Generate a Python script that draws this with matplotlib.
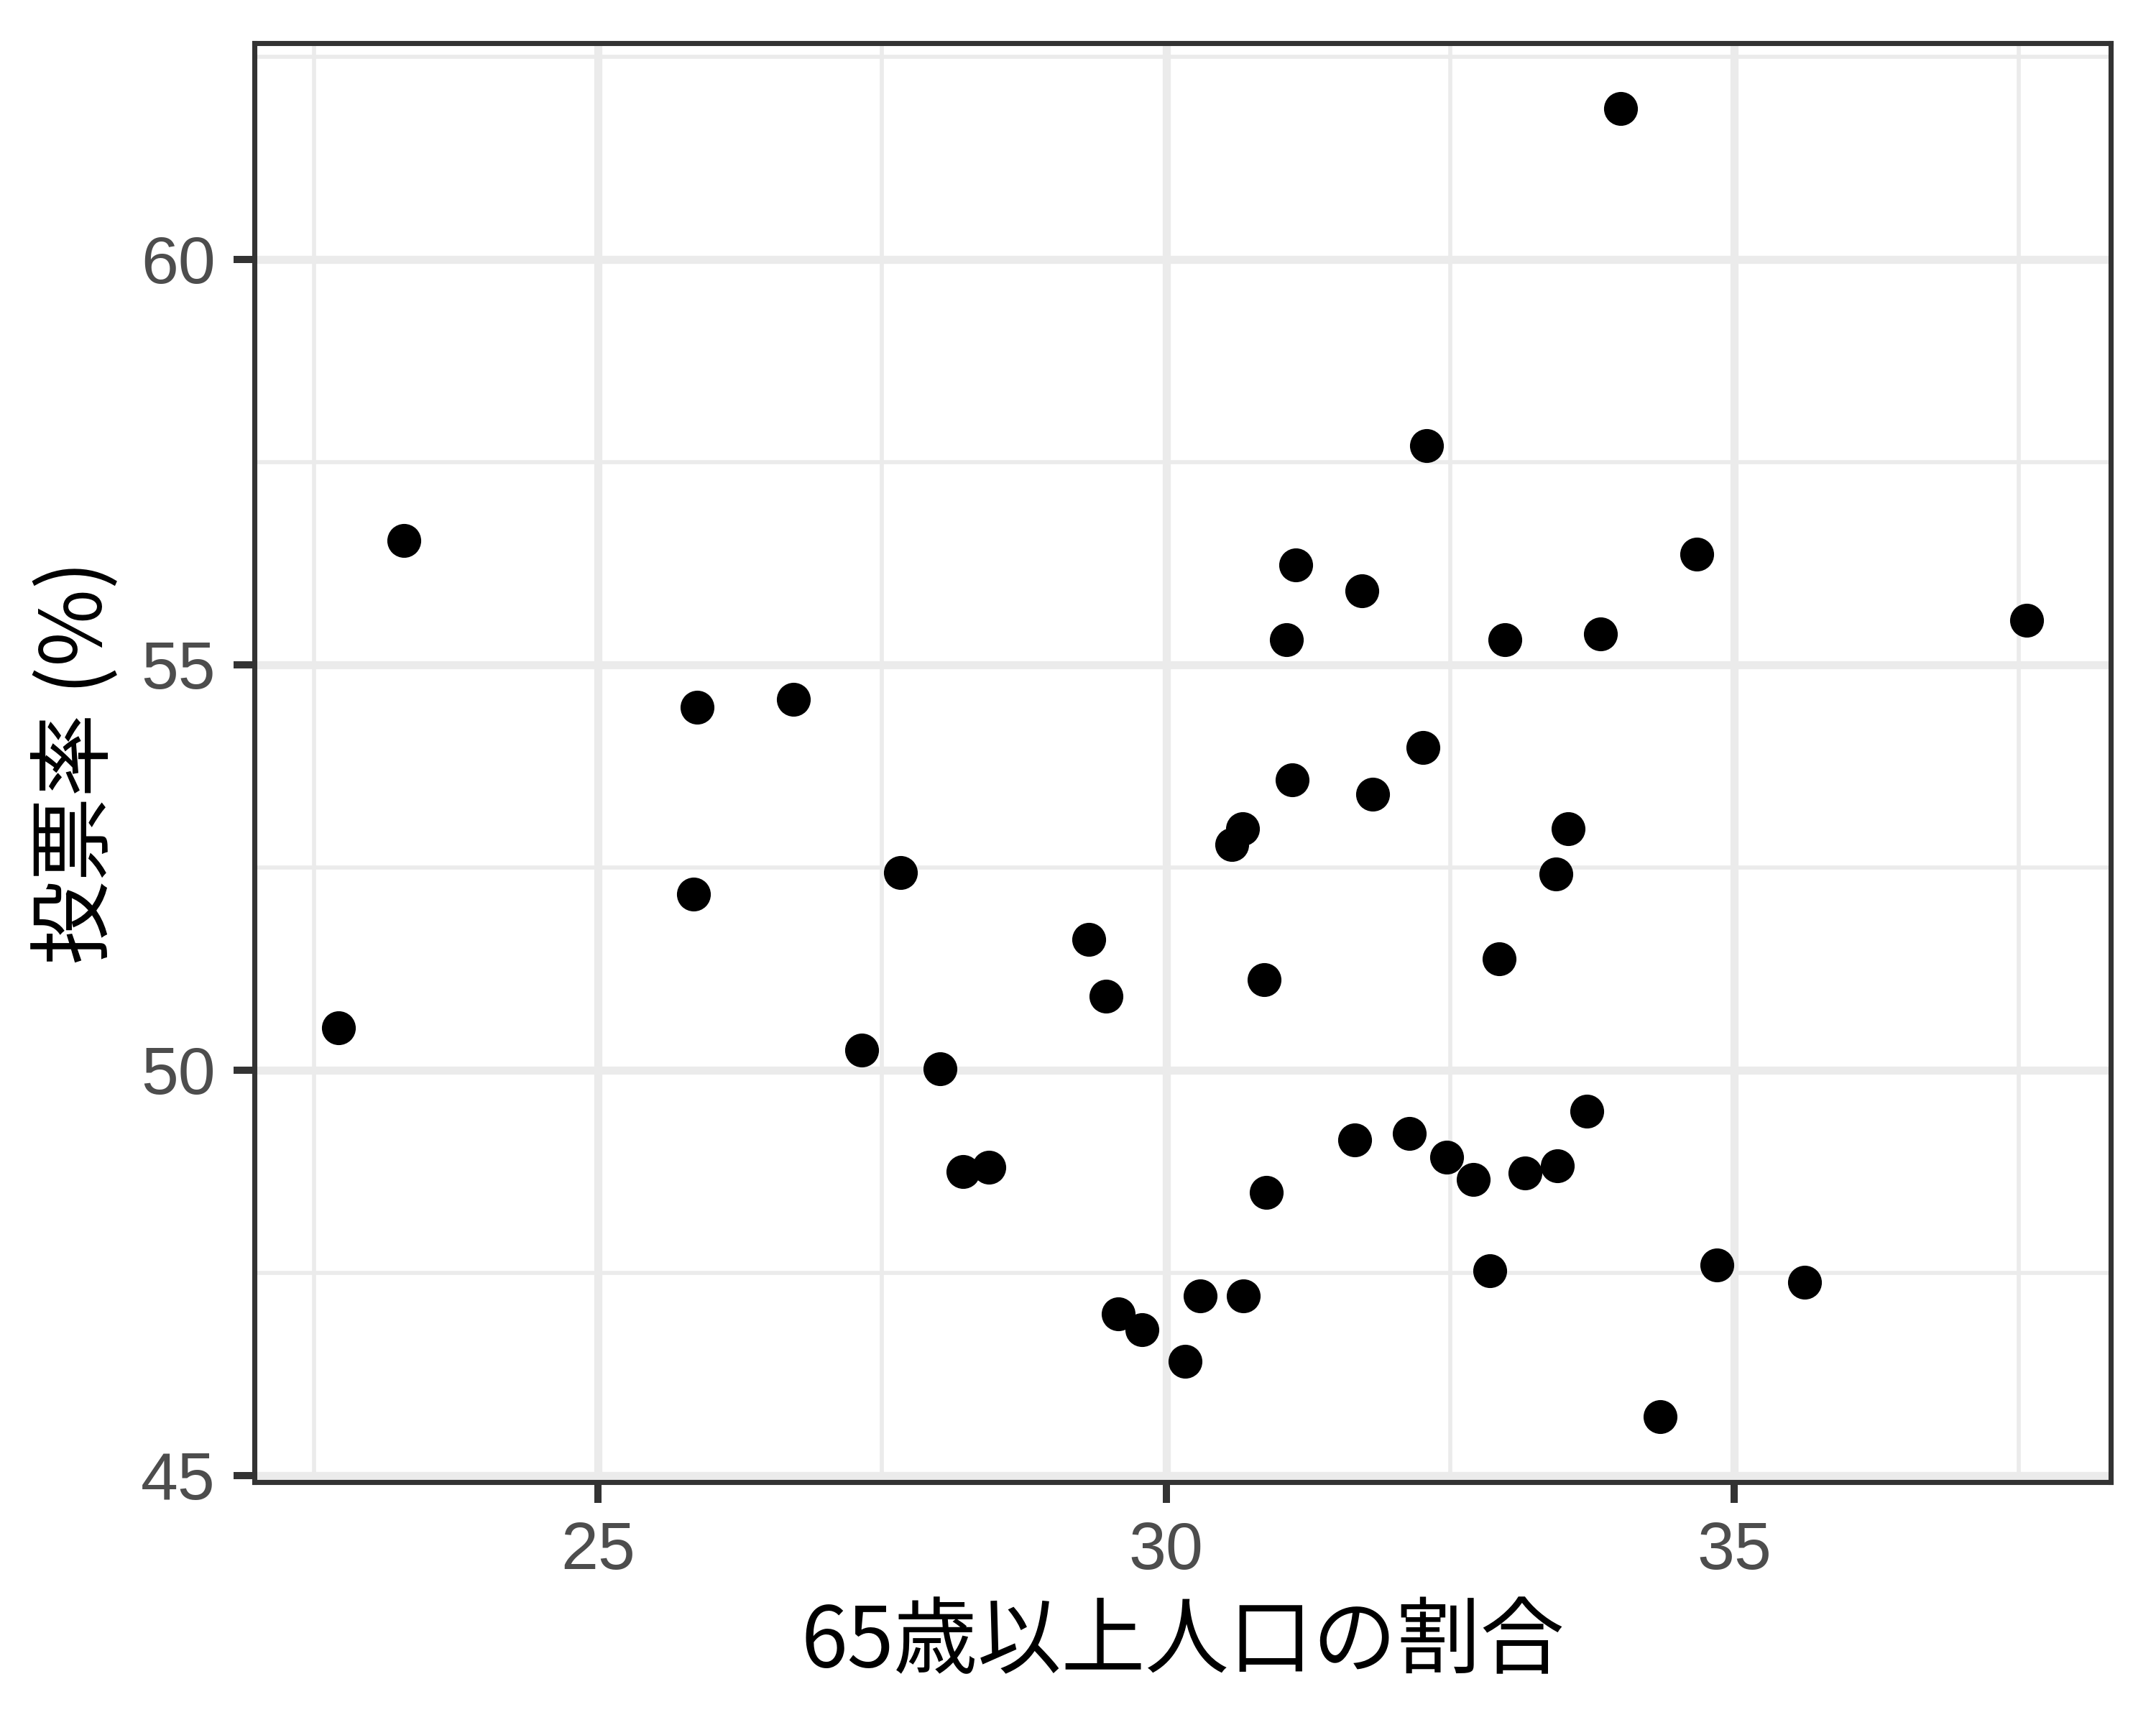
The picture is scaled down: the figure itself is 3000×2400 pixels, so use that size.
import matplotlib
matplotlib.use("Agg")
import matplotlib.pyplot as plt
from matplotlib.ticker import MultipleLocator

# share of population aged 65+ (%) and turnout (%), one point per prefecture
elderly = [22.72, 23.29, 25.87, 25.84, 26.72, 27.32, 27.66, 28.01, 28.21, 28.44,
           29.32, 29.47, 29.58, 29.79, 30.17, 30.30, 30.68, 30.58, 30.67, 30.86,
           30.88, 31.06, 31.14, 31.11, 31.66, 31.72, 31.82, 32.14, 32.26, 32.29,
           32.47, 32.70, 32.85, 32.93, 32.98, 33.16, 33.43, 33.44, 33.54, 33.70,
           33.82, 34.00, 34.35, 34.67, 34.85, 35.62, 37.57]
turnout = [50.52, 56.53, 54.48, 52.17, 54.57, 50.25, 52.44, 50.02, 48.75, 48.80,
           51.61, 50.91, 46.99, 46.80, 46.41, 47.22, 47.22, 52.78, 52.98, 51.12,
           48.49, 55.31, 56.23, 53.58, 49.14, 55.91, 53.40, 49.22, 53.98, 57.70,
           48.93, 48.65, 47.53, 51.37, 55.31, 48.73, 52.42, 48.82, 52.98, 49.49,
           55.38, 61.86, 45.73, 56.36, 47.60, 47.38, 55.55]

x_ticks = [25, 30, 35]
y_ticks = [45, 50, 55, 60]

plt.rcParams['font.family'] = ['Liberation Sans', 'Noto Sans CJK JP', 'DejaVu Sans']

fig = plt.figure(figsize=(10, 8), dpi=300)
ax = fig.add_axes([0.118, 0.141, 0.861, 0.834])

ax.scatter(elderly, turnout, s=128, color='black', linewidths=0, zorder=3)

# ggplot-style expanded limits (5%)
xr = max(elderly) - min(elderly)
yr = max(turnout) - min(turnout)
ax.set_xlim(min(elderly) - 0.05 * xr, max(elderly) + 0.05 * xr)
ax.set_ylim(min(turnout) - 0.05 * yr, max(turnout) + 0.05 * yr)

ax.set_xticks(x_ticks)
ax.set_yticks(y_ticks)
ax.xaxis.set_minor_locator(MultipleLocator(2.5))
ax.yaxis.set_minor_locator(MultipleLocator(2.5))

ax.grid(which='major', color='#EBEBEB', linewidth=2.7, zorder=0)
ax.grid(which='minor', color='#EBEBEB', linewidth=1.35, zorder=0)
ax.set_axisbelow(True)

for sp in ax.spines.values():
    sp.set_color('#333333')
    sp.set_linewidth(1.7)

ax.tick_params(which='major', length=7, width=2.4, color='#333333',
               labelsize=22.4, labelcolor='#4D4D4D', pad=6)
ax.tick_params(which='minor', length=0)

ax.set_xlabel('65歳以上人口の割合', fontsize=28, family=['Noto Sans CJK JP'], labelpad=6)
ax.set_ylabel('投票率 (%)', fontsize=28, family=['Noto Sans CJK JP'], labelpad=7)

fig.savefig('out.png', dpi=300, facecolor='white')
